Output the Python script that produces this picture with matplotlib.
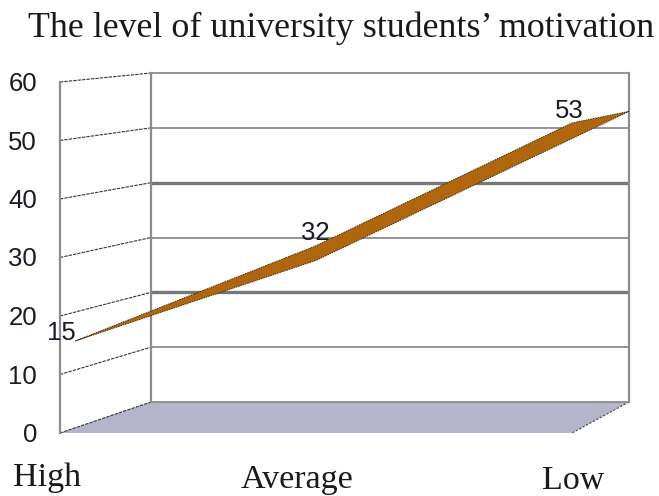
import matplotlib
matplotlib.use('Agg')
import matplotlib.pyplot as plt
from matplotlib.patches import Polygon

title = 'The level of university students\u2019 motivation'
categories = ['High', 'Average', 'Low']
values = [15, 32, 53]
ticks = [0, 10, 20, 30, 40, 50, 60]

# ribbon outline: depth of each end into the box, lower edge dips a bit mid way
upper_depth = [0.17, 0.0, 0.0]
lower_value = [15, 29.5, 53]
lower_depth = [0.17, 0.0, 1.0]
cat_pos = [0.0, 0.5, 1.0]

# heavy lines in the scan
thick_grid = [20, 40]


def project(x, v, d):
    # box coords to picture pixels: x 0-1 across, v value, d 0 front - 1 back
    px = (60 + x * 512) * (1 - d) + (151 + x * 478) * d
    py = (433 - v * 5.85) * (1 - d) + (402 - v * 5.483) * d
    return px, py


fig = plt.figure(figsize=(6.59, 4.96), dpi=100)
ax = fig.add_axes([0, 0, 1, 1])
ax.set_xlim(0, 659)
ax.set_ylim(496, 0)
ax.axis('off')

grey = '#8c8c8c'

# floor
floor = [project(0, 0, 0), project(0, 0, 1), project(1, 0, 1), project(1, 0, 0)]
ax.add_patch(Polygon(floor, closed=True, fc='#b4b5cb', ec='none', zorder=1))
ax.plot(*zip(project(1, 0, 1), project(1, 0, 0)), color='#444444', lw=0.8, ls=(0, (2, 1.5)), zorder=2)

# back wall and side wall
for t in ticks:
    a, b = project(0, t, 1), project(1, t, 1)
    ax.plot(*zip(a, b), color='#777777' if t in thick_grid else grey,
            lw=2.4 if t in thick_grid else 1.3, zorder=2, solid_capstyle='butt')
    c, d = project(0, t, 0), project(0, t, 1)
    ax.plot(*zip(c, d), color='#333333', lw=0.8, ls=(0, (3, 1)), zorder=2)
    ax.text(37, c[1] + 2, str(t), ha='right', va='center', fontsize=18.5,
            family='Liberation Sans', color='#1a1a2a', zorder=6)

for x, d in [(0, 0), (0, 1), (1, 1)]:
    ax.plot(*zip(project(x, 0, d), project(x, 60, d)), color=grey, lw=1.6, zorder=3)

# ribbon
top_edge = [project(x, v, d) for x, v, d in zip(cat_pos, values, upper_depth)]
low_edge = [project(x, v, d) for x, v, d in zip(cat_pos, lower_value, lower_depth)]
outline = top_edge + low_edge[::-1]
ax.add_patch(Polygon(outline, closed=True, fc='#b0660c', ec='#3a2a10', lw=0.7, ls=(0, (1.5, 1)), zorder=4))

# value labels
label_xy = [(61, 333), (315, 233), (569, 111)]
for v, (lx, ly) in zip(values, label_xy):
    ax.text(lx, ly, str(v), ha='center', va='center', fontsize=18.5,
            family='Liberation Sans', color='#1a1a2a', zorder=6)

ax.text(341, 28, title, ha='center', va='center', fontsize=25.8, family='Liberation Serif', color='#1a1a1a')
cat_xy = [(47, 486), (297, 488), (573, 489)]
for name, (lx, ly) in zip(categories, cat_xy):
    ax.text(lx, ly, name, ha='center', va='baseline', fontsize=24.5, family='Liberation Serif', color='#1a1a1a')

fig.savefig('out.png', dpi=100)
